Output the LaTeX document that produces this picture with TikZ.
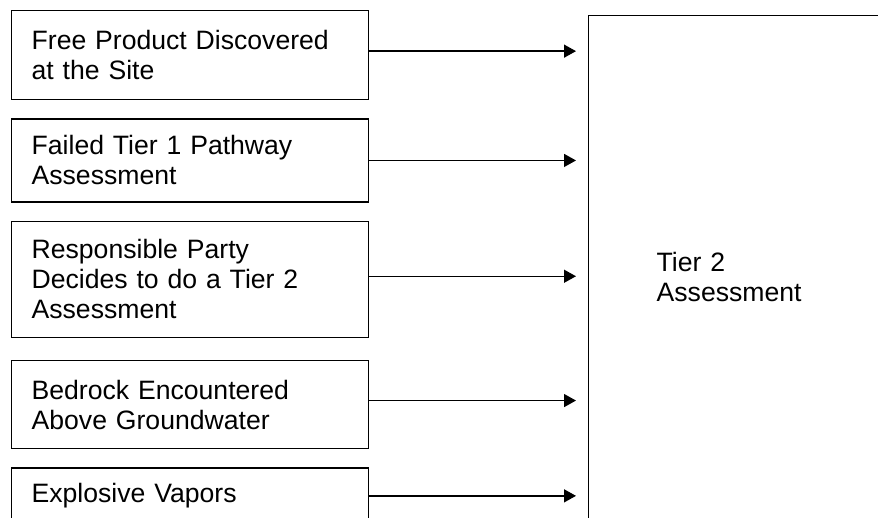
\documentclass[tikz,border=0pt]{standalone}
\usepackage{fontspec}
\setmainfont{Liberation Sans}
\usepackage{tikz}
\usetikzlibrary{arrows.meta,positioning}

\begin{document}
\begin{tikzpicture}[
    x=1pt, y=-1pt,
    box/.style={rectangle, draw, line width=1.3pt, anchor=north west, minimum width=357pt, inner xsep=20pt, text width=317pt, align=left, font=\fontsize{26.6}{30}\selectfont},
    bigbox/.style={rectangle, draw, line width=1.3pt, anchor=north west, minimum width=320pt, minimum height=522pt, inner xsep=68pt, text width=184pt, align=left, font=\fontsize{26.6}{30}\selectfont},
    arrow/.style={-{Triangle[length=12pt,width=13pt]}, line width=1.4pt, shorten >=12pt}
]
\clip (0,0) rectangle (878,517);

% Tier 2 box
\node[bigbox] (tier) at (588,15) {Tier 2\\Assessment};

% Triggers
\node[box, minimum height=89pt] (free) at (11,10) {Free Product Discovered\\at the Site};
\node[box, minimum height=83pt, below=18pt of free.south west, anchor=north west] (failed) {Failed Tier 1 Pathway\\Assessment};
\node[box, minimum height=116pt, below=18pt of failed.south west, anchor=north west] (party) {Responsible Party\\Decides to do a Tier 2\\Assessment};
\node[box, minimum height=88pt, below=22pt of party.south west, anchor=north west] (bedrock) {Bedrock Encountered\\Above Groundwater};
\node[box, minimum height=56pt, below=18pt of bedrock.south west, anchor=north west] (vapors) {Explosive Vapors};

% Arrows
\foreach \src/\dy in {free/4, failed/0, party/3, bedrock/4, vapors/0}
    \draw[arrow] ([yshift=\dy pt]\src.east) -- ([yshift=\dy pt]\src.east -| tier.west);

\end{tikzpicture}
\end{document}
